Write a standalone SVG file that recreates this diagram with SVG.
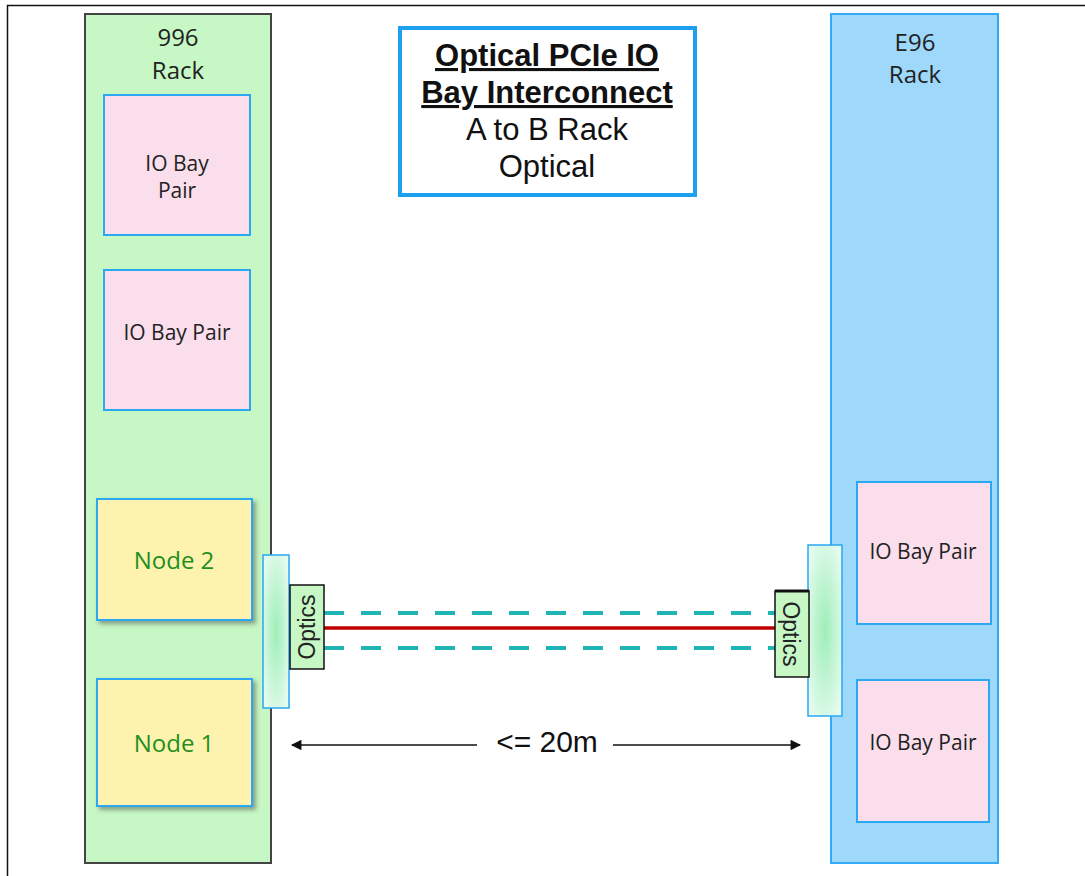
<svg xmlns="http://www.w3.org/2000/svg" width="1085" height="876" viewBox="0 0 1085 876">
<defs>
<style>
.lbl{font-family:"Open Sans","DejaVu Sans",sans-serif;fill:#222;text-anchor:middle}
.rack{font-size:24px}
.io{font-size:21px}
.node{font-family:"Open Sans","DejaVu Sans",sans-serif;font-size:24px;fill:#1f8f1f;text-anchor:middle}
.iobox{fill:#fadeec;stroke:#2aa8f2;stroke-width:2}
.nodebox{fill:#fdf2ae;stroke:#2aa8f2;stroke-width:2;filter:url(#sh)}
.optbox{fill:#c6f7c4;stroke:#111;stroke-width:1.5}
.opttxt{font-family:"Liberation Sans",Arial,sans-serif;font-size:23px;fill:#222;text-anchor:middle}
.title{font-family:"Liberation Sans",Arial,sans-serif;font-size:31px;fill:#111;text-anchor:middle}
.dash{stroke:#1fb5b5;stroke-width:4;stroke-dasharray:20 17;fill:none}
</style>
<radialGradient id="plate" cx="0.5" cy="0.5" r="0.6">
<stop offset="0" stop-color="#9eeeb8"/>
<stop offset="1" stop-color="#e4fbee"/>
</radialGradient>
<filter id="sh" x="-10%" y="-10%" width="130%" height="130%">
<feDropShadow dx="3" dy="3" stdDeviation="2" flood-color="#444" flood-opacity="0.5"/>
</filter>
<marker id="ah" viewBox="0 0 10 10" refX="9" refY="5" markerWidth="8" markerHeight="7" orient="auto-start-reverse">
<path d="M0,0 L10,5 L0,10 z" fill="#111"/>
</marker>
</defs>
<rect x="0" y="0" width="1085" height="876" fill="#fff"/>
<rect x="7.5" y="5.5" width="1100" height="900" fill="none" stroke="#111" stroke-width="1.5"/>

<g id="rack996">
<rect x="85" y="14" width="186" height="849" fill="#c6f7c4" stroke="#444" stroke-width="2"/>
<text class="lbl rack" x="178" y="46">996</text>
<text class="lbl rack" x="178" y="79">Rack</text>
</g>
<g id="rackE96">
<rect x="831" y="14" width="167" height="849" fill="#9ed8fa" stroke="#33aaf5" stroke-width="2"/>
<text class="lbl rack" x="915" y="51">E96</text>
<text class="lbl rack" x="915" y="83">Rack</text>
</g>

<g id="io1">
<rect class="iobox" x="104" y="95" width="146" height="140"/>
<text class="lbl io" x="177" y="171">IO Bay</text>
<text class="lbl io" x="177" y="198">Pair</text>
</g>
<g id="io2">
<rect class="iobox" x="104" y="270" width="146" height="140"/>
<text class="lbl io" x="177" y="340">IO Bay Pair</text>
</g>
<g id="node2">
<rect class="nodebox" x="97" y="499" width="155" height="121"/>
<text class="node" x="174" y="569">Node 2</text>
</g>
<g id="node1">
<rect class="nodebox" x="97" y="679" width="155" height="127"/>
<text class="node" x="174" y="752">Node 1</text>
</g>
<g id="io3">
<rect class="iobox" x="857" y="482" width="134" height="142"/>
<text class="lbl io" x="923" y="559">IO Bay Pair</text>
</g>
<g id="io4">
<rect class="iobox" x="857" y="680" width="132" height="142"/>
<text class="lbl io" x="923" y="750">IO Bay Pair</text>
</g>

<g id="title">
<rect x="400" y="28" width="295" height="167" fill="#fff" stroke="#1ea0f0" stroke-width="4"/>
<text class="title" x="547" y="66" font-weight="bold" text-decoration="underline">Optical PCIe IO</text>
<text class="title" x="547" y="103" font-weight="bold" text-decoration="underline">Bay Interconnect</text>
<text class="title" x="547" y="140">A to B Rack</text>
<text class="title" x="547" y="177">Optical</text>
</g>

<g id="connectors">
<line x1="324" y1="628" x2="775" y2="628" stroke="#c00000" stroke-width="3.5"/>
<line class="dash" x1="324" y1="613" x2="775" y2="613"/>
<line class="dash" x1="324" y1="648" x2="775" y2="648"/>
<line x1="292" y1="745" x2="477" y2="745" stroke="#111" stroke-width="1.5" marker-start="url(#ah)"/>
<line x1="613" y1="745" x2="800" y2="745" stroke="#111" stroke-width="1.5" marker-end="url(#ah)"/>
<text x="547" y="752" font-family="Liberation Sans, Arial, sans-serif" font-size="30" fill="#111" text-anchor="middle">&lt;= 20m</text>
</g>

<g id="optics-left">
<rect x="263" y="555" width="26" height="153" fill="url(#plate)" stroke="#2aa8f2" stroke-width="1.5"/>
<rect class="optbox" x="290" y="585" width="34" height="84"/>
<text class="opttxt" transform="translate(315,627) rotate(-90)">Optics</text>
</g>
<g id="optics-right">
<rect x="808" y="545" width="34" height="171" fill="url(#plate)" stroke="#2aa8f2" stroke-width="1.5"/>
<rect class="optbox" x="775" y="591" width="34" height="86"/>
<line x1="775" y1="591" x2="809" y2="591" stroke="#111" stroke-width="3"/>
<text class="opttxt" transform="translate(783,634) rotate(90)">Optics</text>
</g>
</svg>
